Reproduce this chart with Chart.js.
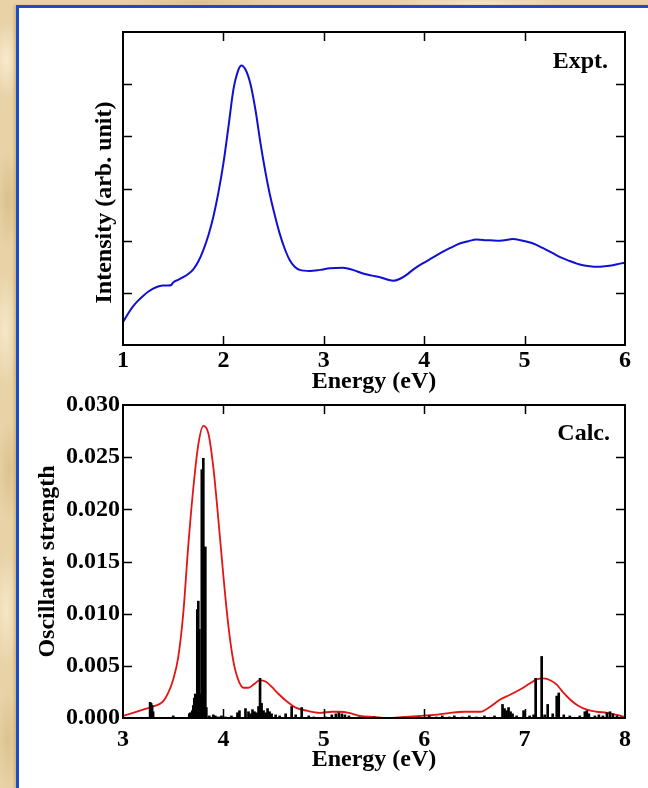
<!DOCTYPE html>
<html>
<head>
<meta charset="utf-8">
<title>Absorption spectra</title>
<script src="https://cdn.jsdelivr.net/npm/chart.js@4.4.1/dist/chart.umd.min.js"></script>
<style>
  html, body { margin: 0; padding: 0; }
  body {
    width: 648px; height: 788px; overflow: hidden; position: relative;
    background-color: #e8d2a6;
    background-image:
      radial-gradient(ellipse 14px 40px at 6px 60px, rgba(255,245,220,0.7), rgba(255,245,220,0) 100%),
      radial-gradient(ellipse 12px 50px at 8px 200px, rgba(205,170,110,0.45), rgba(205,170,110,0) 100%),
      radial-gradient(ellipse 14px 60px at 5px 330px, rgba(255,245,220,0.6), rgba(255,245,220,0) 100%),
      radial-gradient(ellipse 12px 50px at 9px 470px, rgba(205,170,110,0.4), rgba(205,170,110,0) 100%),
      radial-gradient(ellipse 14px 60px at 6px 610px, rgba(255,245,220,0.6), rgba(255,245,220,0) 100%),
      radial-gradient(ellipse 12px 50px at 8px 740px, rgba(205,170,110,0.4), rgba(205,170,110,0) 100%),
      radial-gradient(ellipse 80px 5px at 200px 2px, rgba(205,170,110,0.4), rgba(205,170,110,0) 100%),
      radial-gradient(ellipse 90px 5px at 480px 3px, rgba(255,245,220,0.6), rgba(255,245,220,0) 100%);
  }
  #panel {
    position: absolute; left: 16px; top: 5px; width: 640px; height: 790px;
    border: 3px solid #1b4ec6; background: #ffffff;
    box-shadow: -2px 0 2px rgba(170,130,70,0.35);
  }
  canvas { position: absolute; left: 0; top: 0; }
</style>
</head>
<body>
<div id="panel"></div>
<canvas id="expt" width="648" height="788"></canvas>
<canvas id="calc" width="648" height="788"></canvas>
<script>
// ---- Experimental absorption spectrum (arbitrary units) ----
const exptEnergy = [1.00, 1.05, 1.10, 1.15, 1.20, 1.25, 1.30, 1.35, 1.40, 1.45, 1.48, 1.50, 1.55, 1.60, 1.65,
  1.70, 1.75, 1.80, 1.85, 1.90, 1.95, 2.00, 2.05, 2.10, 2.15, 2.18, 2.22, 2.27, 2.32, 2.37, 2.42, 2.46, 2.51,
  2.56, 2.61, 2.66, 2.71, 2.76, 2.86, 2.96, 3.06, 3.19, 3.29, 3.39, 3.48, 3.56, 3.64, 3.69, 3.76, 3.82, 3.90,
  3.99, 4.08, 4.16, 4.26, 4.36, 4.44, 4.52, 4.62, 4.72, 4.80, 4.88, 4.96, 5.08, 5.18, 5.28, 5.36, 5.45, 5.52,
  5.58, 5.65, 5.72, 5.80, 5.88, 5.95, 6.00];
const exptIntensity = [0.44, 0.60, 0.74, 0.85, 0.94, 1.02, 1.08, 1.12, 1.14, 1.14, 1.15, 1.20, 1.25, 1.30, 1.36,
  1.45, 1.60, 1.82, 2.10, 2.46, 2.92, 3.48, 4.18, 4.90, 5.28, 5.36, 5.28, 5.00, 4.50, 3.86, 3.30, 2.91, 2.50,
  2.14, 1.85, 1.63, 1.50, 1.44, 1.42, 1.44, 1.47, 1.48, 1.44, 1.37, 1.33, 1.30, 1.25, 1.23, 1.27, 1.34, 1.46,
  1.57, 1.67, 1.76, 1.86, 1.95, 1.99, 2.02, 2.01, 2.00, 2.01, 2.03, 2.01, 1.95, 1.86, 1.76, 1.68, 1.61, 1.56,
  1.53, 1.51, 1.50, 1.51, 1.53, 1.56, 1.58];
const exptXTicks = [1, 2, 3, 4, 5, 6];

// ---- Calculated spectrum: broadened envelope ----
const calcEnergy = [3.00, 3.10, 3.20, 3.30, 3.40, 3.45, 3.50, 3.55, 3.60, 3.65, 3.70, 3.75, 3.80, 3.85, 3.90,
  3.95, 4.00, 4.05, 4.10, 4.15, 4.20, 4.25, 4.30, 4.36, 4.42, 4.48, 4.55, 4.63, 4.72, 4.83, 4.96, 5.08, 5.16,
  5.25, 5.36, 5.50, 5.63, 5.80, 5.96, 6.10, 6.26, 6.40, 6.56, 6.66, 6.76, 6.85, 6.95, 7.05, 7.12, 7.19, 7.26,
  7.32, 7.38, 7.45, 7.53, 7.62, 7.72, 7.82, 7.92, 8.00];
const calcEnvelope = [0.0002, 0.0005, 0.0008, 0.0011, 0.0016, 0.0024, 0.0037, 0.0058, 0.0100, 0.0165, 0.0220,
  0.0262, 0.0280, 0.0273, 0.0240, 0.0190, 0.0136, 0.0088, 0.0054, 0.0036, 0.0029, 0.0029, 0.0032, 0.0036,
  0.0035, 0.0030, 0.0023, 0.0016, 0.0010, 0.0007, 0.0005, 0.0006, 0.0006, 0.0005, 0.0002, 0.0001, 0.0000,
  0.0001, 0.0002, 0.0003, 0.0005, 0.0006, 0.0006, 0.0011, 0.0018, 0.0022, 0.0027, 0.0033, 0.0037, 0.0038,
  0.0036, 0.0032, 0.0025, 0.0018, 0.0012, 0.0008, 0.0006, 0.0005, 0.0003, 0.0001];

// ---- Calculated spectrum: individual transitions (sticks) ----
const stickEnergy = [3.27, 3.28, 3.29, 3.30, 3.50, 3.66, 3.67, 3.69, 3.70, 3.71, 3.72, 3.73, 3.74, 3.75, 3.76,
  3.77, 3.785, 3.80, 3.81, 3.82, 3.83, 3.86, 3.90, 3.92, 3.95, 3.98, 4.02, 4.08, 4.14, 4.16, 4.22, 4.25, 4.27,
  4.29, 4.31, 4.33, 4.35, 4.365, 4.38, 4.40, 4.42, 4.44, 4.46, 4.48, 4.52, 4.56, 4.62, 4.68, 4.72, 4.78, 4.85,
  4.90, 5.02, 5.08, 5.12, 5.15, 5.18, 5.21, 5.25, 5.35, 5.50, 5.95, 6.05, 6.12, 6.18, 6.25, 6.30, 6.38, 6.45,
  6.52, 6.60, 6.70, 6.78, 6.80, 6.82, 6.84, 6.86, 6.88, 6.92, 6.99, 7.05, 7.09, 7.11, 7.17, 7.20, 7.23, 7.28,
  7.32, 7.34, 7.39, 7.45, 7.55, 7.60, 7.62, 7.64, 7.70, 7.74, 7.78, 7.82, 7.85, 7.88, 7.92, 7.96];
const stickStrength = [0.0015, 0.0014, 0.0012, 0.0006, 0.0002, 0.0004, 0.0005, 0.0007, 0.0012, 0.0019, 0.0023,
  0.0015, 0.0104, 0.0112, 0.0085, 0.0023, 0.0238, 0.0249, 0.0021, 0.0164, 0.0010, 0.0002, 0.0003, 0.0002,
  0.0001, 0.0002, 0.0001, 0.0002, 0.0005, 0.0007, 0.0009, 0.0006, 0.0004, 0.0008, 0.0006, 0.0005, 0.0011,
  0.0038, 0.0014, 0.0007, 0.0005, 0.0009, 0.0006, 0.0004, 0.0003, 0.0002, 0.0004, 0.0011, 0.0003, 0.0010,
  0.0002, 0.0001, 0.0001, 0.0003, 0.0004, 0.0005, 0.0004, 0.0003, 0.0002, 0.0001, 0.0001, 0.0001, 0.0002,
  0.0001, 0.0002, 0.0001, 0.0002, 0.0001, 0.0002, 0.0001, 0.0002, 0.0002, 0.0013, 0.0009, 0.0007, 0.0010,
  0.0006, 0.0004, 0.0002, 0.0007, 0.0002, 0.0003, 0.0038, 0.0059, 0.0003, 0.0013, 0.0004, 0.0021, 0.0024,
  0.0003, 0.0002, 0.0002, 0.0006, 0.0007, 0.0004, 0.0002, 0.0003, 0.0002, 0.0005, 0.0006, 0.0004, 0.0002,
  0.0001];
const calcXTicks = [3, 4, 5, 6, 7, 8];
const calcYTicks = [0.000, 0.005, 0.010, 0.015, 0.020, 0.025, 0.030];

// ---- Text ----
const energyTitle = 'Energy (eV)';
const exptYTitle = 'Intensity (arb. unit)';
const calcYTitle = 'Oscillator strength';
const exptTag = 'Expt.';
const calcTag = 'Calc.';

const SERIF = '"Liberation Serif", "Times New Roman", Times, serif';
const bold = (size) => ({ family: SERIF, size: size, weight: 'bold', lineHeight: 1.2 });

// Boxed frame with inward ticks, panel tag and the rotated side title
const framePlugin = {
  id: 'frame',
  afterDatasetsDraw(chart, args, o) {
    const { ctx, chartArea: a, scales: { x, y } } = chart;
    ctx.save();
    ctx.strokeStyle = '#000';
    ctx.lineWidth = 1.5;
    ctx.beginPath();
    x.ticks.forEach(t => {
      const px = Math.round(x.getPixelForValue(t.value)) + 0.5;
      if (px <= a.left + 2 || px >= a.right - 2) return;
      ctx.moveTo(px, a.bottom); ctx.lineTo(px, a.bottom - o.tickLen);
      ctx.moveTo(px, a.top); ctx.lineTo(px, a.top + o.tickLen);
    });
    y.ticks.forEach(t => {
      const py = Math.round(y.getPixelForValue(t.value)) + 0.5;
      if (py <= a.top + 2 || py >= a.bottom - 2) return;
      ctx.moveTo(a.left, py); ctx.lineTo(a.left + o.tickLen, py);
      ctx.moveTo(a.right, py); ctx.lineTo(a.right - o.tickLen, py);
    });
    ctx.stroke();
    ctx.lineWidth = 2;
    ctx.strokeRect(a.left, a.top, a.right - a.left, a.bottom - a.top);

    ctx.fillStyle = '#000';
    ctx.font = 'bold ' + o.fontSize + 'px ' + SERIF;
    ctx.textAlign = 'right';
    ctx.textBaseline = 'alphabetic';
    ctx.fillText(o.tag, a.right - o.tagRight, a.top + o.tagBase);

    ctx.translate(o.titleX, (a.top + a.bottom) / 2 + o.titleShift);
    ctx.rotate(-Math.PI / 2);
    ctx.textAlign = 'center';
    ctx.textBaseline = 'middle';
    ctx.fillText(o.title, 0, 0);
    ctx.restore();
  }
};

const toPoints = (xs, ys) => xs.map((v, i) => ({ x: v, y: ys[i] }));

const common = {
  responsive: false,
  animation: false,
  devicePixelRatio: 1,
  events: [],
};

new Chart(document.getElementById('expt'), {
  type: 'line',
  data: {
    datasets: [{
      data: toPoints(exptEnergy, exptIntensity),
      borderColor: '#1010d4',
      borderWidth: 2,
      pointRadius: 0,
      cubicInterpolationMode: 'monotone',
      fill: false,
    }]
  },
  options: {
    ...common,
    layout: { padding: { top: 32, right: 23, left: 0, bottom: 391.6 } },
    plugins: {
      legend: { display: false },
      tooltip: { enabled: false },
      frame: { tickLen: 9, fontSize: 24, tag: exptTag, tagRight: 17, tagBase: 36,
               title: exptYTitle, titleX: 105, titleShift: 14 }
    },
    scales: {
      x: {
        type: 'linear', min: 1, max: 6,
        afterBuildTicks: s => { s.ticks = exptXTicks.map(v => ({ value: v })); },
        afterFit: s => { s.height = 51.4; },
        grid: { display: false, drawTicks: false },
        border: { display: false },
        ticks: { color: '#000', font: bold(24), padding: 1, maxRotation: 0, autoSkip: false },
        title: { display: true, text: energyTitle, color: '#000', font: bold(24), padding: 0 }
      },
      y: {
        type: 'linear', min: 0, max: 6,
        ticks: { stepSize: 1, display: false },
        afterFit: s => { s.width = 123; },
        grid: { display: false, drawTicks: false },
        border: { display: false },
        title: { display: false }
      }
    }
  },
  plugins: [framePlugin]
});

new Chart(document.getElementById('calc'), {
  type: 'bar',
  data: {
    datasets: [
      {
        type: 'line',
        data: toPoints(calcEnergy, calcEnvelope),
        borderColor: '#e41414',
        borderWidth: 1.8,
        pointRadius: 0,
        cubicInterpolationMode: 'monotone',
        fill: false,
        order: 2
      },
      {
        type: 'bar',
        data: toPoints(stickEnergy, stickStrength),
        backgroundColor: '#000',
        borderWidth: 0,
        barThickness: 2,
        order: 1
      }
    ]
  },
  options: {
    ...common,
    layout: { padding: { top: 405, right: 23, left: 0, bottom: 13.6 } },
    plugins: {
      legend: { display: false },
      tooltip: { enabled: false },
      frame: { tickLen: 9, fontSize: 24, tag: calcTag, tagRight: 15, tagBase: 35,
               title: calcYTitle, titleX: 48, titleShift: 0 }
    },
    scales: {
      x: {
        type: 'linear', min: 3, max: 8, offset: false,
        afterBuildTicks: s => { s.ticks = calcXTicks.map(v => ({ value: v })); },
        afterFit: s => { s.height = 56.4; },
        grid: { display: false, drawTicks: false, offset: false },
        border: { display: false },
        ticks: { color: '#000', font: bold(24), padding: 7, maxRotation: 0, autoSkip: false },
        title: { display: true, text: energyTitle, color: '#000', font: bold(24), padding: 0 }
      },
      y: {
        type: 'linear', min: 0, max: 0.03,
        afterBuildTicks: s => { s.ticks = calcYTicks.map(v => ({ value: v })); },
        afterFit: s => { s.width = 123; },
        grid: { display: false, drawTicks: false },
        border: { display: false },
        ticks: { color: '#000', font: bold(24), padding: 3, callback: v => Number(v).toFixed(3) },
        title: { display: false }
      }
    }
  },
  plugins: [framePlugin]
});
</script>
</body>
</html>
